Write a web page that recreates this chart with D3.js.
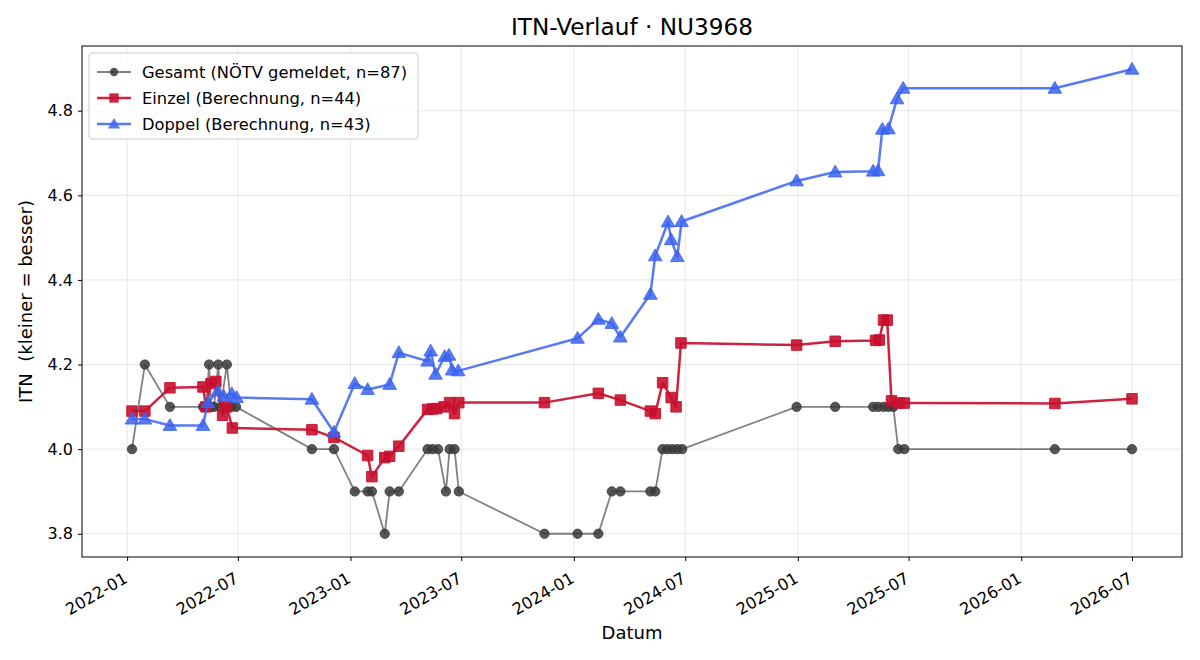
<!DOCTYPE html>
<html>
<head>
<meta charset="utf-8">
<script src="https://cdn.jsdelivr.net/npm/d3@7"></script>
<style>
  body { margin: 0; background: #fff; }
  svg { font-family: "DejaVu Sans", sans-serif; }
</style>
</head>
<body>
<svg width="1200" height="660"></svg>
<script>
// Gesamt (NÖTV gemeldet)
const gesamtDates = ['2022-01-09','2022-01-30','2022-03-12','2022-05-05','2022-05-10','2022-05-15','2022-05-18','2022-05-23','2022-05-30','2022-06-03','2022-06-13','2022-06-20','2022-06-28',
  '2022-10-30','2022-12-05','2023-01-08','2023-01-29','2023-02-05','2023-02-26','2023-03-06','2023-03-21','2023-05-07','2023-05-15','2023-05-24','2023-06-06','2023-06-12','2023-06-20','2023-06-27',
  '2023-11-14','2024-01-07','2024-02-10','2024-03-03','2024-03-17','2024-05-05','2024-05-13','2024-05-25','2024-06-02','2024-06-10','2024-06-18','2024-06-26',
  '2024-12-30','2025-03-03','2025-05-04','2025-05-12','2025-05-21','2025-05-29','2025-06-06','2025-06-14','2025-06-24','2026-02-25','2026-07-01'];
const gesamtValues = [4.0,4.2,4.1,4.1,4.1,4.2,4.1,4.1,4.2,4.1,4.2,4.1,4.1,
  4.0,4.0,3.9,3.9,3.9,3.8,3.9,3.9,4.0,4.0,4.0,3.9,4.0,4.0,3.9,
  3.8,3.8,3.8,3.9,3.9,3.9,3.9,4.0,4.0,4.0,4.0,4.0,
  4.1,4.1,4.1,4.1,4.1,4.1,4.1,4.0,4.0,4.0,4.0];

// Einzel (Berechnung)
const einzelDates = ['2022-01-09','2022-01-30','2022-03-12','2022-05-05','2022-05-10','2022-05-18','2022-05-26','2022-06-06','2022-06-13','2022-06-22',
  '2022-10-30','2022-12-05','2023-01-29','2023-02-05','2023-02-26','2023-03-06','2023-03-21','2023-05-07','2023-05-15','2023-05-22','2023-06-03','2023-06-12','2023-06-20','2023-06-27',
  '2023-11-14','2024-02-10','2024-03-17','2024-05-05','2024-05-13','2024-05-25','2024-06-08','2024-06-16','2024-06-24',
  '2024-12-30','2025-03-03','2025-05-08','2025-05-14','2025-05-21','2025-05-27','2025-06-03','2025-06-16','2025-06-24','2026-02-25','2026-07-01'];
const einzelValues = [4.09,4.09,4.145,4.147,4.10,4.155,4.16,4.08,4.10,4.05,
  4.046,4.028,3.985,3.935,3.98,3.983,4.007,4.094,4.095,4.096,4.10,4.11,4.084,4.11,
  4.11,4.132,4.116,4.09,4.084,4.157,4.122,4.10,4.251,
  4.246,4.255,4.257,4.258,4.305,4.305,4.114,4.109,4.109,4.108,4.119];

// Doppel (Berechnung)
const doppelDates = ['2022-01-09','2022-01-30','2022-03-12','2022-05-05','2022-05-13','2022-05-29','2022-06-08','2022-06-21','2022-06-29',
  '2022-10-30','2022-12-05','2023-01-08','2023-01-29','2023-03-06','2023-03-21','2023-05-07','2023-05-12','2023-05-20','2023-06-04','2023-06-11','2023-06-16','2023-06-26',
  '2024-01-07','2024-02-10','2024-03-03','2024-03-17','2024-05-05','2024-05-13','2024-06-03','2024-06-08','2024-06-18','2024-06-25',
  '2024-12-30','2025-03-03','2025-05-04','2025-05-12','2025-05-19','2025-05-29','2025-06-12','2025-06-22','2026-02-25','2026-07-01'];
const doppelValues = [4.071,4.071,4.056,4.056,4.11,4.137,4.125,4.131,4.122,
  4.118,4.04,4.155,4.141,4.153,4.228,4.208,4.232,4.177,4.219,4.222,4.187,4.185,
  4.262,4.307,4.297,4.265,4.366,4.457,4.537,4.495,4.455,4.538,
  4.634,4.655,4.657,4.658,4.756,4.757,4.828,4.853,4.853,4.898];

const yTicks = [3.8, 4.0, 4.2, 4.4, 4.6, 4.8];

const series = [
  {label: 'Gesamt (NÖTV gemeldet, n=87)', dates: gesamtDates, values: gesamtValues, line: '#333333', lineOpacity: 0.62, lw: 1.8, marker: 'circle', fill: '#3a3a3a', markerOpacity: 0.85, size: 68},
  {label: 'Einzel (Berechnung, n=44)', dates: einzelDates, values: einzelValues, line: '#c8102e', lineOpacity: 0.92, lw: 2.5, marker: 'square', fill: '#c8102e', markerOpacity: 0.9, size: 110},
  {label: 'Doppel (Berechnung, n=43)', dates: doppelDates, values: doppelValues, line: '#3b63f0', lineOpacity: 0.85, lw: 2.5, marker: 'triangle', fill: '#3b63f0', markerOpacity: 0.85, size: 80}
];

const svg = d3.select('svg');
const margin = {top: 46, right: 18, bottom: 103, left: 82};
const width = +svg.attr('width');
const height = +svg.attr('height');
const innerWidth = width - margin.left - margin.right;
const innerHeight = height - margin.top - margin.bottom;

const parse = d3.timeParse('%Y-%m-%d');
series.forEach(s => { s.data = s.dates.map((d, i) => ({date: parse(d), value: s.values[i]})); });

const allDates = series.flatMap(s => s.data.map(d => d.date));
const allValues = series.flatMap(s => s.values);
const [d0, d1] = d3.extent(allDates);
const pad = (d1 - d0) * 0.05;
const [v0, v1] = d3.extent(allValues);
const vpad = (v1 - v0) * 0.05;

const xScale = d3.scaleTime()
  .domain([new Date(+d0 - pad), new Date(+d1 + pad)])
  .range([0, innerWidth]);
const yScale = d3.scaleLinear()
  .domain([v0 - vpad, v1 + vpad])
  .range([innerHeight, 0]);

const xTicks = d3.timeMonth.every(6).range(d3.timeYear.floor(d0), new Date(+d1 + pad));

const g = svg.append('g').attr('transform', `translate(${margin.left},${margin.top})`);

// grid
g.append('g').selectAll('line.vx').data(xTicks).enter().append('line')
  .attr('x1', d => xScale(d)).attr('x2', d => xScale(d))
  .attr('y1', 0).attr('y2', innerHeight)
  .attr('stroke', '#b0b0b0').attr('stroke-opacity', 0.3).attr('stroke-width', 1);
g.append('g').selectAll('line.hy').data(yTicks).enter().append('line')
  .attr('y1', d => yScale(d)).attr('y2', d => yScale(d))
  .attr('x1', 0).attr('x2', innerWidth)
  .attr('stroke', '#b0b0b0').attr('stroke-opacity', 0.3).attr('stroke-width', 1);

// axes
const xAxis = d3.axisBottom(xScale).tickValues(xTicks).tickFormat(d3.timeFormat('%Y-%m')).tickSize(4).tickSizeOuter(0);
const xAxisG = g.append('g').attr('transform', `translate(0,${innerHeight})`).call(xAxis)
  .attr('font-family', null).attr('font-size', null);
xAxisG.select('.domain').remove();
xAxisG.selectAll('.tick line').attr('stroke', '#000');
xAxisG.selectAll('.tick text')
  .attr('font-size', 16.3).attr('fill', '#000')
  .attr('text-anchor', 'end')
  .attr('y', 0).attr('dy', '0.75em')
  .attr('transform', 'translate(-5,14) rotate(-30)');

const yAxis = d3.axisLeft(yScale).tickValues(yTicks).tickFormat(d3.format('.1f')).tickSize(4).tickSizeOuter(0);
const yAxisG = g.append('g').call(yAxis)
  .attr('font-family', null).attr('font-size', null);
yAxisG.select('.domain').remove();
yAxisG.selectAll('.tick line').attr('stroke', '#000');
yAxisG.selectAll('.tick text').attr('font-size', 16).attr('fill', '#000').attr('x', -9);

g.append('rect').attr('width', innerWidth).attr('height', innerHeight)
  .attr('fill', 'none').attr('stroke', '#000').attr('stroke-width', 1);

// lines and markers
const line = d3.line().x(d => xScale(d.date)).y(d => yScale(d.value));
const symbolType = {circle: d3.symbolCircle, square: d3.symbolSquare, triangle: d3.symbolTriangle};

series.forEach(s => {
  const sg = g.append('g');
  sg.append('path').datum(s.data)
    .attr('d', line).attr('fill', 'none')
    .attr('stroke', s.line).attr('stroke-opacity', s.lineOpacity)
    .attr('stroke-width', s.lw).attr('stroke-linejoin', 'round');
  sg.selectAll('path.m').data(s.data).enter().append('path')
    .attr('class', 'm')
    .attr('d', d3.symbol().type(symbolType[s.marker]).size(s.size))
    .attr('transform', d => `translate(${xScale(d.date)},${yScale(d.value) + (s.marker === 'triangle' ? 1 : 0)})`)
    .attr('fill', s.fill).attr('fill-opacity', s.markerOpacity)
    .attr('stroke', s.fill).attr('stroke-opacity', s.markerOpacity).attr('stroke-width', 1);
});

// title and labels
svg.append('text').attr('x', margin.left + innerWidth / 2).attr('y', 35)
  .attr('text-anchor', 'middle').attr('font-size', 23.2).text('ITN-Verlauf · NU3968');
svg.append('text').attr('x', margin.left + innerWidth / 2).attr('y', 639)
  .attr('text-anchor', 'middle').attr('font-size', 18).text('Datum');
svg.append('text').attr('transform', `translate(32,${margin.top + innerHeight / 2}) rotate(-90)`)
  .attr('text-anchor', 'middle').attr('font-size', 18)
  .style('white-space', 'pre').text('ITN  (kleiner = besser)');

// legend
const legend = svg.append('g').attr('transform', 'translate(89,53)');
legend.append('rect').attr('width', 329).attr('height', 86).attr('rx', 3)
  .attr('fill', '#fff').attr('fill-opacity', 0.8).attr('stroke', '#cccccc');
series.forEach((s, i) => {
  const row = legend.append('g').attr('transform', `translate(0,${19 + i * 26})`);
  row.append('line').attr('x1', 8).attr('x2', 42)
    .attr('stroke', s.line).attr('stroke-opacity', s.lineOpacity).attr('stroke-width', s.lw);
  row.append('path').attr('d', d3.symbol().type(symbolType[s.marker]).size(s.size * 0.8))
    .attr('transform', `translate(25,${s.marker === 'triangle' ? 1 : 0})`)
    .attr('fill', s.fill).attr('fill-opacity', s.markerOpacity);
  row.append('text').attr('x', 53).attr('y', 6).attr('font-size', 16.3).text(s.label);
});
</script>
</body>
</html>
